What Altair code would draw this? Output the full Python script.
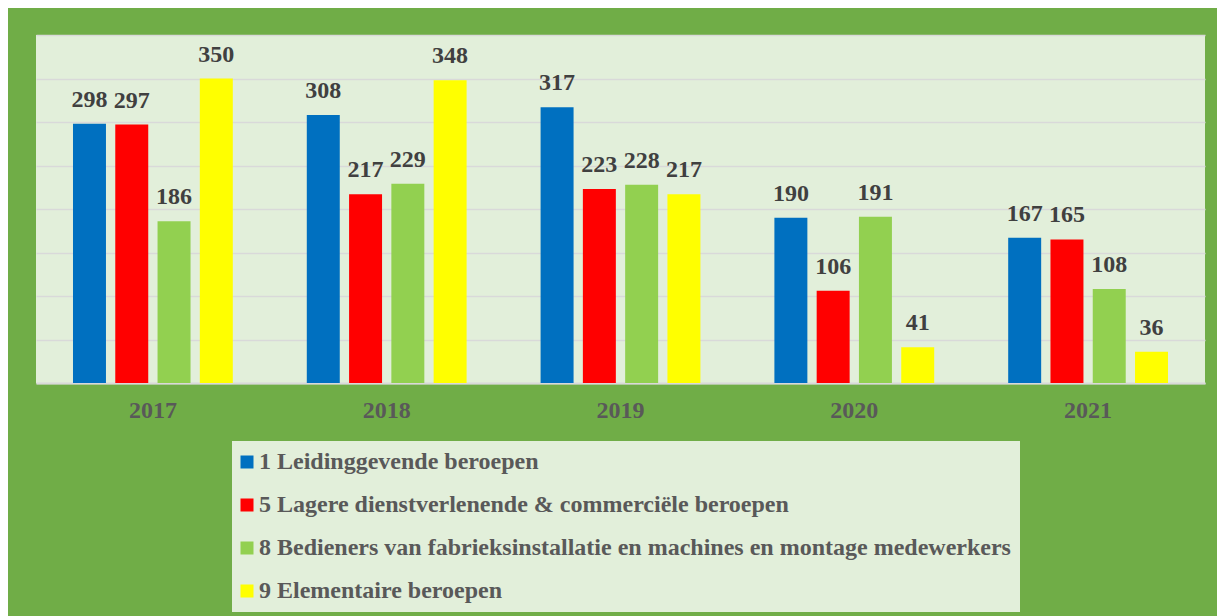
import altair as alt
import pandas as pd

years = ["2017", "2018", "2019", "2020", "2021"]
series = [
    "1 Leidinggevende beroepen",
    "5 Lagere dienstverlenende & commerciële beroepen",
    "8 Bedieners van fabrieksinstallatie en machines en montage medewerkers",
    "9 Elementaire beroepen",
]
leiding = [298, 308, 317, 190, 167]
lagere = [297, 217, 223, 106, 165]
bedieners = [186, 229, 228, 191, 108]
elementair = [350, 348, 217, 41, 36]
colors = ["#0070C0", "#FF0000", "#92D050", "#FFFF00"]

rows = []
for s, vals in zip(series, [leiding, lagere, bedieners, elementair]):
    for y, v in zip(years, vals):
        rows.append({"jaar": y, "reeks": s, "waarde": v})
df = pd.DataFrame(rows)

font = "Liberation Serif"

base = alt.Chart(df).encode(
    x=alt.X("jaar:N", sort=years,
            scale=alt.Scale(paddingInner=0, paddingOuter=0),
            axis=alt.Axis(title=None, labelAngle=0, ticks=False, domain=True,
                          domainColor="#D9D9D9", domainWidth=2,
                          labelFont=font, labelFontSize=24, labelFontWeight="bold",
                          labelColor="#595959", labelPadding=15)),
    xOffset=alt.XOffset("reeks:N", sort=series,
                        scale=alt.Scale(paddingInner=0.22, paddingOuter=0.875)),
    y=alt.Y("waarde:Q",
            scale=alt.Scale(domain=[0, 400], nice=False),
            axis=alt.Axis(title=None, labels=False, ticks=False, domain=False,
                          grid=True, gridColor="#D9D9D9", gridWidth=1.5,
                          values=[0, 50, 100, 150, 200, 250, 300, 350, 400])),
)

bars = base.mark_bar().encode(
    color=alt.Color("reeks:N", sort=series,
                    scale=alt.Scale(domain=series, range=colors),
                    legend=alt.Legend(title=None, orient="none",
                                      legendX=196, legendY=406,
                                      fillColor="#E2EFDA", padding=9,
                                      symbolType="square", symbolSize=169,
                                      symbolStrokeWidth=0, symbolOffset=-6,
                                      labelFont=font, labelFontSize=24,
                                      labelFontWeight="bold",
                                      labelColor="#595959", labelLimit=0,
                                      rowPadding=19, labelOffset=0))
)

labels = base.mark_text(
    font=font, fontSize=24, fontWeight="bold", color="#404040",
    baseline="alphabetic", dy=-17
).encode(text="waarde:Q")

chart = (bars + labels).properties(
    width=1169, height=348,
    background="#70AD47",
    padding={"left": 28, "top": 27, "right": 12, "bottom": 12},
).configure_view(stroke=None, fill="#E2EFDA")

chart.save("out.html", embed_options={"renderer": "svg", "actions": False})
